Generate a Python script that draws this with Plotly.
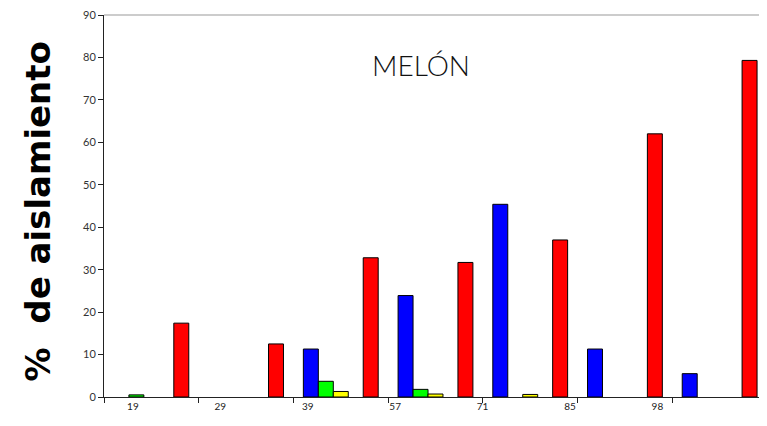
import plotly.graph_objects as go

categories = ["19", "29", "39", "57", "71", "85", "98"]
blue = [None, None, 11.3, 23.9, 45.4, 11.3, 5.5]
green = [0.5, None, 3.7, 1.8, None, None, None]
yellow = [None, None, 1.3, 0.7, 0.6, None, None]
empty = [None] * 7
red = [17.4, 12.5, 32.8, 31.7, 37.0, 62.0, 79.3]

series = [("blue", blue, "#0000FF"), ("green", green, "#00FF00"),
          ("yellow", yellow, "#FFFF00"), ("empty", empty, "#FF00FF"),
          ("red", red, "#FF0000")]

x = list(range(len(categories)))
fig = go.Figure()
for name, vals, col in series:
    fig.add_trace(go.Bar(x=x, y=vals, name=name, marker=dict(color=col, line=dict(color="black", width=1)),
                         showlegend=False))

# tick label positions (shifted as in the original rendering)
label_start = -0.195
label_step = 0.923
label_pos = [label_start + label_step * i for i in range(len(categories))]

fig.update_layout(
    width=759, height=418,
    margin=dict(l=96, r=0, t=7, b=29),
    paper_bgcolor="white", plot_bgcolor="white",
    barmode="group", bargap=0.21, bargroupgap=0,
    font=dict(family="Lato, DejaVu Sans, sans-serif", color="#333333"),
    xaxis=dict(range=[-0.5, 6.5], tickmode="array", tickvals=label_pos, ticktext=categories,
               ticks="", tickfont=dict(size=10, color="#222222"), showline=True, linecolor="#222222",
               linewidth=1, showgrid=False, zeroline=False, ticklabeloverflow="allow",
               minor=dict(ticks="outside", tickmode="array", tickvals=[i - 0.5 for i in range(8)],
                          ticklen=5, tickcolor="#222222", showgrid=False)),
    yaxis=dict(range=[0, 90], dtick=10, tick0=0, ticks="outside", ticklen=5, tickcolor="#222222",
               showline=True, linecolor="#222222", linewidth=1, showgrid=False, zeroline=False,
               ticklabeloverflow="allow", tickfont=dict(size=11, color="#333333")),
    shapes=[dict(type="line", xref="paper", yref="paper", x0=0, x1=1, y0=1, y1=1,
                 line=dict(color="#999999", width=1))],
    annotations=[
        dict(text="MELÓN", xref="paper", yref="paper", x=0.478, y=0.92, showarrow=False,
             font=dict(size=28, color="#111111", family="Lato, sans-serif", weight=300)),
        dict(text="%  de aislamiento", xref="paper", yref="paper", x=-0.1, y=0.485, textangle=-90,
             showarrow=False, xanchor="center", yanchor="middle",
             font=dict(size=34, color="#000000", family="DejaVu Sans, sans-serif", weight="bold")),
    ],
)

fig.write_html("out.html")
